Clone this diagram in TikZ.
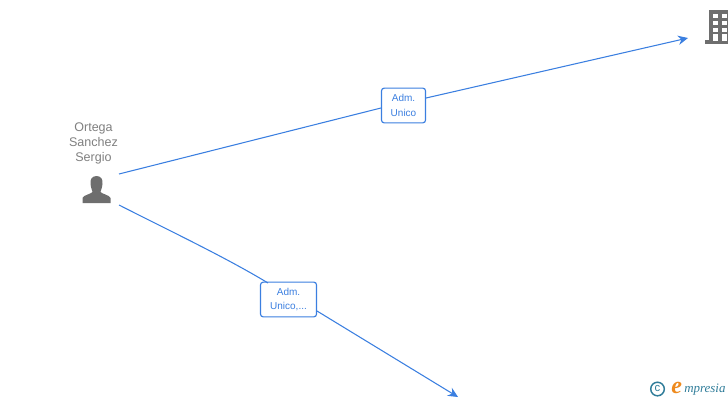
\documentclass[tikz,border=0pt]{standalone}
\usepackage{fontspec}
\setmainfont{Liberation Sans}
\newfontfamily\logofont{Liberation Serif}
\usetikzlibrary{arrows.meta}
\definecolor{edgeblue}{HTML}{3B7FE0}
\definecolor{icongrey}{HTML}{6E6E6E}
\definecolor{textgrey}{HTML}{7F7F7F}
\definecolor{logoblue}{HTML}{2F7C99}
\definecolor{logoorange}{HTML}{EE8A1E}
\tikzset{
  linkline/.style={draw=edgeblue,line width=0.8pt},
  conn/.style={linkline,-{Stealth[length=7.5pt,width=7pt,inset=2.5pt]}},
  rolebox/.style={draw=edgeblue,line width=0.85pt,fill=white,rounded corners=2pt,inner sep=0pt,
    text=edgeblue,font=\fontsize{7.5}{11}\selectfont,align=center},
  pname/.style={text=textgrey,font=\fontsize{9.4}{11.2}\selectfont,align=center,inner sep=0pt},
  iconfill/.style={fill=icongrey,draw=none}
}
\begin{document}
\begin{tikzpicture}[x=0.75pt,y=-0.75pt]
\useasboundingbox (0,0) rectangle (728,400);
% anchors
\coordinate (personA) at (119,174);
\coordinate (personB) at (119,205);
\coordinate (companyTop) at (688,38);
\coordinate (companyBottom) at (458,397);
% role boxes
\node[rolebox,minimum width=33pt,minimum height=26pt] (roleA) at (403.5,105.5) {Adm.\\Unico};
\node[rolebox,minimum width=42pt,minimum height=26pt] (roleB) at (288.5,299.5) {Adm.\\Unico,...};
% connectors
\draw[linkline] (personA) -- (roleA.west |- 0,108);
\draw[conn] (roleA.east |- 0,98) -- (companyTop);
\draw[linkline] (personB) .. controls (170,231) and (225,257) .. (268,283);
\draw[conn] (317,311) -- (companyBottom);
% person label
\node[pname] (personLabel) at (93.5,143) {Ortega\\Sanchez\\Sergio};
% person icon
\path[iconfill] (96.5,176) .. controls (91.5,176) and (90,180) .. (90.5,184)
  .. controls (91,188) and (92,190) .. (92.5,192)
  .. controls (91,194) and (83.5,195) .. (82.5,198)
  -- (82.5,203) -- (110.5,203) -- (110.5,198)
  .. controls (109.5,195) and (102,194) .. (100.5,192)
  .. controls (101,190) and (102,188) .. (102.5,184)
  .. controls (103,180) and (101.5,176) .. (96.5,176) -- cycle;
% building icon
\path[iconfill] (709,10) rectangle (728,40);
\path[iconfill] (705,40) rectangle (728,43.5);
\foreach \yy in {13.5,20.5,27.5} {
  \fill[white] (713,\yy) rectangle (718,\yy+4);
  \fill[white] (722,\yy) rectangle (727,\yy+4);
}
\fill[white] (713,34) rectangle (718,40.5);
\fill[white] (722,34) rectangle (727,40.5);
% logo
\draw[logoblue,line width=1.1pt] (657.5,389) circle (6.8);
\node[text=logoblue,font=\fontsize{8.5}{8.5}\selectfont,inner sep=0pt] (copyMark) at (657.5,388.5) {c};
\node[text=logoorange,font=\logofont\itshape\bfseries\fontsize{18}{18}\selectfont,inner sep=0pt,anchor=base west] (logoE) at (671,393) {e};
\node[text=logoblue,font=\logofont\itshape\fontsize{9.7}{10}\selectfont,inner sep=0pt,anchor=base west] (logoText) at (684,392) {mpresia};
\end{tikzpicture}
\end{document}
